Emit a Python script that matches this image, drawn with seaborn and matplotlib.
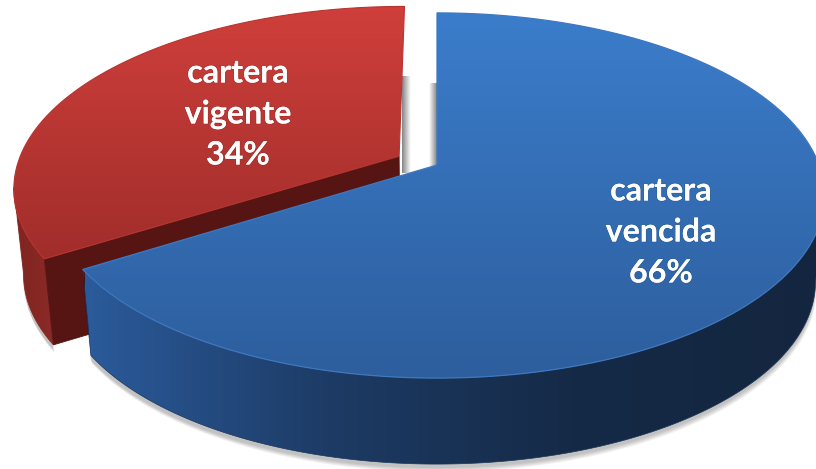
import numpy as np
import matplotlib
matplotlib.use("Agg")
import matplotlib.pyplot as plt
from matplotlib.patches import Polygon
import matplotlib.patheffects as pe
import seaborn as sns

categories = ["cartera\nvencida", "cartera\nvigente"]
values = [66, 34]
label_pos = [(661, 232), (238, 114)]

# perspective of the disc, fitted on the picture
APEX = (437, 165)
A, B, K = 382.0, 177.5, 0.167
DEPTH = 86
BOTTOM_X = 0.977


def project(u, v, depth=0.0):
    w = 1 + K * v
    sx = 1 - (1 - BOTTOM_X) * depth
    return APEX[0] + sx * A * u / w, APEX[1] - B * v / w + depth * DEPTH


def arc(t1, t2, du, dv, depth=0.0, n=160):
    t = np.radians(np.linspace(t1, t2, n))
    return np.column_stack(project(np.cos(t) + du, np.sin(t) + dv, depth))


def grad_fill(ax, pts, colors, horizontal, span, z):
    cmap = sns.blend_palette(colors, 256, as_cmap=True)
    g = np.linspace(0, 1, 256)
    g = g[None, :] if horizontal else g[:, None]
    ext = (span[0], span[1], 469, 0) if horizontal else (0, 816, span[1], span[0])
    im = ax.imshow(g, cmap=cmap, extent=ext, aspect="auto", zorder=z, vmin=0, vmax=1)
    im.set_clip_path(Polygon(pts, closed=True, transform=ax.transData))
    return im


def soft_shadow(ax, pts, z, dy=3, alpha=0.05):
    for i in range(1, 6):
        ax.add_patch(Polygon(pts + np.array([i * 0.4 - 1, dy + i]), closed=True, fc="black",
                             ec="none", alpha=alpha, zorder=z))


sns.set_theme(style="white")
plt.rcParams["font.family"] = ["Lato", "DejaVu Sans"]

fig = plt.figure(figsize=(8.16, 4.69), dpi=100, facecolor="white")
ax = fig.add_axes([0, 0, 1, 1])

# the pie only gives the slice angles here
helper = fig.add_axes([0, 0, 0.1, 0.1])
wedges, _ = helper.pie(values, startangle=90, counterclock=False)
helper.set_visible(False)
blue, red = wedges[0], wedges[1]
RED_OFF = (-0.1, 0.05)

# red slice, side starts at the left silhouette of the disc
r_t1, r_t2 = red.theta1, red.theta2
r_split = -170
r_side = np.vstack([arc(r_split, r_t2, *RED_OFF), arc(r_split, r_t2, *RED_OFF, depth=1)[::-1]])
ax_apex = np.array(project(*RED_OFF))
ax_apex_b = np.array(project(*RED_OFF, depth=1))
corner = arc(r_t2, r_t2, *RED_OFF, n=1)[0]
corner_b = arc(r_t2, r_t2, *RED_OFF, depth=1, n=1)[0]
cut = np.array([ax_apex, corner, corner_b, ax_apex_b])
r_top = np.vstack([[ax_apex], arc(r_t1, r_t2, *RED_OFF)])

soft_shadow(ax, r_side, 1)
grad_fill(ax, r_side, ["#7d2420", "#8e2b27"], True, (10, 60), 2)
ax.add_patch(Polygon(r_side, closed=True, fc="none", ec="#84271f", lw=0.6, zorder=2))
ax.add_patch(Polygon(cut, closed=True, fc="#561513", ec="#561513", lw=0.6, zorder=3))
grad_fill(ax, r_top, ["#cf3f3b", "#a02d2a"], False, (6, 262), 4)
ax.add_patch(Polygon(r_top, closed=True, fc="none", ec="#b83430", lw=0.8, zorder=4))

# inner walls seen in the gap
g = np.linspace(0.85, 0, 32)[None, :]
wall_cmap = sns.blend_palette(["#ffffff", "#707070"], 64, as_cmap=True)
ax.imshow(g, cmap=wall_cmap, extent=(402, 411, 173, 76), aspect="auto", zorder=1, vmin=0, vmax=1)
ax.imshow(g[:, ::-1], cmap=wall_cmap, extent=(429, 437, 166, 83), aspect="auto", zorder=1, vmin=0, vmax=1)

# blue slice
b_t1, b_t2 = blue.theta1, blue.theta2
b_side = np.vstack([arc(b_t1, -10, 0, 0), arc(b_t1, -10, 0, 0, depth=1)[::-1]])
b_top = np.vstack([[APEX], arc(b_t1, b_t2, 0, 0)])

soft_shadow(ax, b_side, 5)
grad_fill(ax, b_side, ["#2b5b9b", "#1d3b65", "#152a47", "#14263f"], True, (85, 816), 6)
ax.add_patch(Polygon(b_side, closed=True, fc="none", ec="#1b3558", lw=0.5, zorder=6))
grad_fill(ax, b_top, ["#3b7dcb", "#2d5e9d"], False, (13, 378), 7)
ax.add_patch(Polygon(b_top, closed=True, fc="none", ec="#3f78c0", lw=0.9, zorder=7))

for name, val, (x, y) in zip(categories, values, label_pos):
    ax.text(x, y, f"{name}\n{val}%", color="white", fontsize=23.2, fontweight="bold",
            ha="center", va="center", linespacing=1.5, zorder=9,
            path_effects=[pe.withStroke(linewidth=1.2, foreground=(0, 0, 0, 0.08))])

ax.set_xlim(0, 816)
ax.set_ylim(469, 0)
ax.axis("off")
fig.savefig("out.png", dpi=100, facecolor="white")
